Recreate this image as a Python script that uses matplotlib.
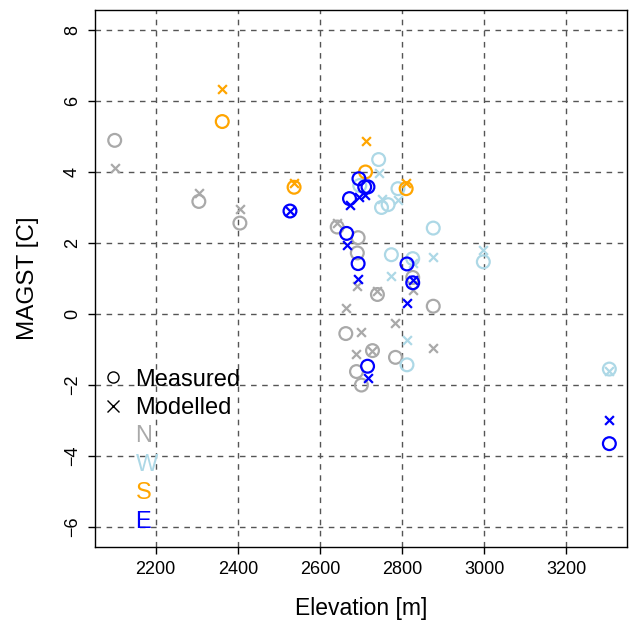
# MAGST measured vs modelled, by aspect
import matplotlib
matplotlib.use("Agg")
import matplotlib.pyplot as plt
from matplotlib.lines import Line2D
import numpy as np

plt.rcParams['font.family'] = ['Liberation Sans', 'DejaVu Sans']

# data (elevation [m], measured / modelled MAGST [C])
n_elev = [2100, 2305, 2405, 2642, 2693, 2691, 2826, 2740, 2876, 2663, 2728, 2784, 2689, 2701]
n_meas = [4.89, 3.17, 2.56, 2.45, 2.15, 1.72, 1.03, 0.55, 0.22, -0.55, -1.03, -1.22, -1.62, -2.00]
n_mod = [4.10, 3.40, 2.95, 2.55, np.nan, 0.78, 0.67, 0.65, -0.95, 0.17, -1.03, -0.24, -1.12, -0.52]

w_elev = [2743, 2697, 2750, 2766, 2790, 2876, 2774, 2826, 2998, 2812, 3305]
w_meas = [4.35, 3.62, 3.00, 3.08, 3.53, 2.42, 1.67, 1.56, 1.47, -1.43, -1.55]
w_mod = [3.98, np.nan, 3.25, np.nan, 3.20, 1.61, 1.07, 1.45, 1.79, -0.74, -1.60]

s_elev = [2362, 2537, 2711, 2810]
s_meas = [5.42, 3.57, 4.00, 3.53]
s_mod = [6.33, 3.68, 4.87, 3.70]

e_elev = [2527, 2672, 2695, 2709, 2717, 2665, 2693, 2812, 2826, 2716, 3305]
e_meas = [2.90, 3.25, 3.81, 3.58, 3.58, 2.27, 1.42, 1.41, 0.88, -1.47, -3.65]
e_mod = [2.90, 3.06, 3.30, 3.36, np.nan, 1.95, 1.00, 0.32, 0.95, -1.81, -2.97]

aspects = ["N", "W", "S", "E"]
colours = ["darkgray", "lightblue", "orange", "blue"]
groups = [(n_elev, n_meas, n_mod), (w_elev, w_meas, w_mod),
          (s_elev, s_meas, s_mod), (e_elev, e_meas, e_mod)]

xticks = [2200, 2400, 2600, 2800, 3000, 3200]
yticks = [-6, -4, -2, 0, 2, 4, 6, 8]

fig = plt.figure(figsize=(6.32, 6.23), dpi=100)
ax = fig.add_axes([0.1503, 0.1220, 0.8418, 0.8619])

# grid
for x in xticks:
    ax.axvline(x, color="#555555", lw=1, ls=(0, (4, 4)), zorder=0)
for y in yticks:
    ax.axhline(y, color="#555555", lw=1, ls=(0, (4, 4)), zorder=0)

for (el, me, mo), col in zip(groups, colours):
    ax.scatter(el, me, s=85, facecolors="none", edgecolors=col, linewidths=1.6, zorder=3)
    ax.scatter(el, mo, s=40, marker="x", color=col, linewidths=1.6, zorder=3)

ax.set_xlim(2052, 3348)
ax.set_ylim(-6.56, 8.56)
ax.set_xticks(xticks)
ax.set_yticks(yticks)
ax.tick_params(direction="out", length=5, width=1, labelsize=13, pad=5)
for lab in ax.get_yticklabels():
    lab.set_rotation(90)
    lab.set_va("center")
for sp in ax.spines.values():
    sp.set_linewidth(1)

ax.set_xlabel("Elevation [m]", fontsize=16.5, labelpad=14)
ax.set_ylabel("MAGST [C]", fontsize=17.5, labelpad=18)

handles = [Line2D([], [], ls="none", marker="o", mfc="none", mec="black", ms=8, mew=1),
           Line2D([], [], ls="none", marker="x", color="black", ms=8, mew=1)]
handles += [Line2D([], [], ls="none") for a in aspects]
ax.legend(handles, ["Measured", "Modelled"] + aspects,
          labelcolor=["black", "black"] + colours,
          loc="upper left", bbox_to_anchor=(0.012, 0.332), frameon=False,
          fontsize=17, borderpad=0, borderaxespad=0, handlelength=1.0,
          handletextpad=0.45, labelspacing=0.27)

fig.savefig("out.png", dpi=100)
